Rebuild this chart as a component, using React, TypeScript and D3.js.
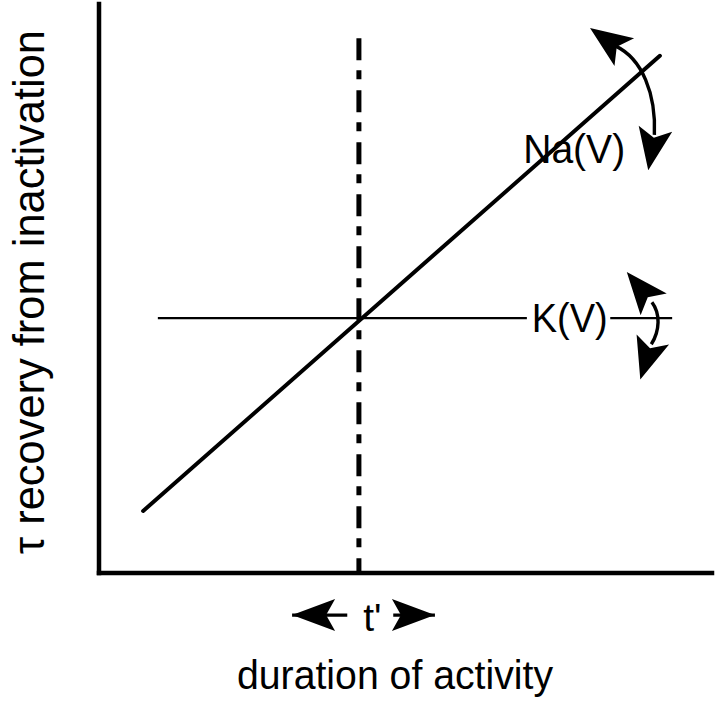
import React from "react";
import * as d3 from "d3";

// ---- data (in chart units: t = duration of activity, tau = recovery time) ----
const tDomain = [0, 100];
const tauDomain = [0, 100];
const naLine = [
  { t: 7.2, tau: 10.9 },
  { t: 91.5, tau: 90.9 },
];
const kLevel = 44.8;
const kSegments = [
  [9.6, 69.8],
  [83.4, 93.5],
];
const tPrime = 42.4;
const dashTop = 94.0;
const naLabel = { text: "Na(V)", t: 69.2, tau: 72.1 };
const kLabel = { text: "K(V)", t: 70.6, tau: 42.3 };
// curved double arrows: [tip1, notch1, ctrl1, ctrl2, notch2, tip2]
const naArrow = [
  [80.1, 95.8],
  [84.3, 92.6],
  [88.6, 90.4],
  [90.9, 84.2],
  [90.6, 77.0],
  [89.6, 70.8],
];
const kArrow = [
  [86.1, 52.9],
  [90.2, 47.6],
  [91.6, 45.6],
  [91.5, 42.6],
  [90.1, 40.2],
  [88.3, 34.0],
];
// t' arrows: [tip, shaftEnd]
const tLeftArrow = [31.5, 40.5];
const tRightArrow = [54.8, 48.0];
const tArrowLevel = -7.4;
const tLabel = { text: "t'", t: 44.6, tau: -10.2 };
const xTitle = "duration of activity";
const yTitle = "τ recovery from inactivation";

const W = 720;
const H = 711;

function head(tip: [number, number], from: [number, number], L: number, hw: number, notch: number) {
  const dx = tip[0] - from[0];
  const dy = tip[1] - from[1];
  const len = Math.hypot(dx, dy) || 1;
  const ux = dx / len;
  const uy = dy / len;
  const nx = -uy;
  const ny = ux;
  const bx = tip[0] - L * ux;
  const by = tip[1] - L * uy;
  const p = [
    [tip[0], tip[1]],
    [bx + hw * nx, by + hw * ny],
    [tip[0] - notch * ux, tip[1] - notch * uy],
    [bx - hw * nx, by - hw * ny],
  ];
  return "M" + p.map((q) => q.join(",")).join("L") + "Z";
}

export default function App() {
  const x = d3.scaleLinear().domain(tDomain).range([99, 712]);
  const y = d3.scaleLinear().domain(tauDomain).range([573, 4]);
  const line = d3
    .line<{ t: number; tau: number }>()
    .x((d) => x(d.t))
    .y((d) => y(d.tau));

  const curved = (pts: number[][], L: number, hw: number) => {
    const P = pts.map((p) => [x(p[0]), y(p[1])] as [number, number]);
    const path = d3.path();
    path.moveTo(P[1][0], P[1][1]);
    path.bezierCurveTo(P[2][0], P[2][1], P[3][0], P[3][1], P[4][0], P[4][1]);
    return (
      <g>
        <path d={path.toString()} fill="none" stroke="#000" strokeWidth={3.4} />
        <path d={head(P[0], P[1], L, hw, L * 0.78)} fill="#000" />
        <path d={head(P[5], P[4], L, hw, L * 0.78)} fill="#000" />
      </g>
    );
  };

  const straightArrow = (a: number[]) => {
    const tip: [number, number] = [x(a[0]), y(tArrowLevel)];
    const end: [number, number] = [x(a[1]), y(tArrowLevel)];
    return (
      <g>
        <line x1={tip[0]} y1={tip[1]} x2={end[0]} y2={end[1]} stroke="#000" strokeWidth={3.4} />
        <path d={head(tip, end, 43, 16, 34)} fill="#000" />
      </g>
    );
  };

  const font = "'Liberation Sans', Arial, Helvetica, sans-serif";

  return (
    <svg width={W} height={H} style={{ display: "block", position: "absolute", left: 0, top: 0 }} fontFamily={font}>
      <rect width={W} height={H} fill="#fff" />
      {/* axes */}
      <line x1={x(0)} y1={y(tauDomain[1])} x2={x(0)} y2={y(0)} stroke="#000" strokeWidth={4.5} strokeLinecap="square" />
      <line x1={x(0)} y1={y(0)} x2={x(tDomain[1])} y2={y(0)} stroke="#000" strokeWidth={4.5} strokeLinecap="square" />
      {/* dash-dot t' line */}
      <line
        x1={x(tPrime)}
        y1={y(dashTop)}
        x2={x(tPrime)}
        y2={y(0)}
        stroke="#000"
        strokeWidth={5}
        strokeDasharray="22 10 9 11"
      />
      {/* K line */}
      {kSegments.map((s, i) => (
        <line key={i} x1={x(s[0])} y1={y(kLevel)} x2={x(s[1])} y2={y(kLevel)} stroke="#000" strokeWidth={2.2} />
      ))}
      {/* Na line */}
      <path d={line(naLine) || ""} fill="none" stroke="#000" strokeWidth={4} strokeLinecap="round" />
      {/* labels */}
      <text x={x(naLabel.t)} y={y(naLabel.tau)} fontSize={41} textLength={102} lengthAdjust="spacingAndGlyphs">
        {naLabel.text}
      </text>
      <text x={x(kLabel.t)} y={y(kLabel.tau)} fontSize={41} textLength={76} lengthAdjust="spacingAndGlyphs">
        {kLabel.text}
      </text>
      {curved(naArrow, 42, 17)}
      {curved(kArrow, 42, 17)}
      {straightArrow(tLeftArrow)}
      {straightArrow(tRightArrow)}
      <text x={x(tLabel.t)} y={y(tLabel.tau)} fontSize={39} textAnchor="middle">
        {tLabel.text}
      </text>
      <text x={395} y={689} fontSize={40} textAnchor="middle" textLength={316} lengthAdjust="spacingAndGlyphs">
        {xTitle}
      </text>
      <text
        transform="translate(44,292) rotate(-90)"
        fontSize={44}
        textAnchor="middle"
        textLength={524}
        lengthAdjust="spacingAndGlyphs"
      >
        {yTitle}
      </text>
    </svg>
  );
}
